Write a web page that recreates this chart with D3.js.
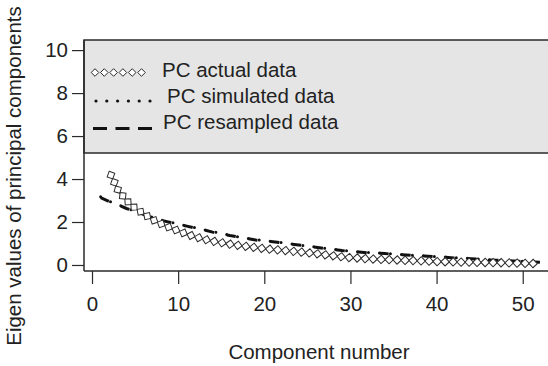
<!DOCTYPE html>
<html>
<head>
<meta charset="utf-8">
<script src="https://cdn.jsdelivr.net/npm/d3@7"></script>
<style>
  body { margin: 0; background: #fff; }
  svg { display: block; }
  text { font-family: "Liberation Sans", Arial, sans-serif; fill: #222; }
</style>
</head>
<body>
<div id="chart"></div>
<script>
// component numbers
var actualComp = d3.range(2, 53);
var resampComp = d3.range(1, 53);

// PC actual data (components 2..52)
var actualVals = [4.35, 3.5, 3.0, 2.65, 2.38, 2.12, 1.92, 1.74, 1.59, 1.43,
  1.31, 1.2, 1.11, 1.04, 0.97, 0.91, 0.86, 0.81, 0.76, 0.72,
  0.69, 0.65, 0.61, 0.57, 0.53, 0.48, 0.43, 0.38, 0.34, 0.32,
  0.29, 0.27, 0.25, 0.24, 0.22, 0.21, 0.19, 0.18, 0.16, 0.15,
  0.14, 0.135, 0.13, 0.12, 0.115, 0.11, 0.1, 0.09, 0.08, 0.07, 0.06];

// PC simulated data (components 1..52)
var simVals = [3.17, 2.97, 2.82, 2.65, 2.51, 2.36, 2.22, 2.1, 2.0, 1.91,
  1.82, 1.73, 1.64, 1.55, 1.47, 1.39, 1.31, 1.24, 1.18, 1.13,
  1.09, 1.04, 0.99, 0.94, 0.88, 0.83, 0.78, 0.73, 0.68, 0.64,
  0.61, 0.58, 0.56, 0.54, 0.51, 0.49, 0.46, 0.44, 0.42, 0.39,
  0.37, 0.34, 0.32, 0.3, 0.28, 0.25, 0.23, 0.21, 0.19, 0.17, 0.15, 0.14];

// PC resampled data (components 1..52)
var resampVals = [3.13, 2.95, 2.8, 2.63, 2.5, 2.35, 2.21, 2.08, 1.99, 1.9,
  1.81, 1.72, 1.63, 1.53, 1.45, 1.37, 1.3, 1.23, 1.16, 1.12,
  1.08, 1.03, 0.98, 0.93, 0.87, 0.82, 0.77, 0.72, 0.67, 0.63,
  0.6, 0.57, 0.55, 0.53, 0.5, 0.48, 0.45, 0.43, 0.41, 0.38,
  0.36, 0.33, 0.31, 0.29, 0.27, 0.24, 0.22, 0.2, 0.18, 0.16, 0.14, 0.13];

var xTicks = [0, 10, 20, 30, 40, 50];
var yTicks = [0, 2, 4, 6, 8, 10];
var legendLabels = ["PC actual data", "PC simulated data", "PC resampled data"];

var width = 548, height = 366;
var boxL = 84, boxR = 549, boxT = 40, boxB = 271;
var legendBottom = 153;
var ink = "#2a2a2a";
var fs = 20.5;

var svg = d3.select("#chart").append("svg")
  .attr("width", width)
  .attr("height", height);

var x = d3.scaleLinear().domain([-0.93, 53.05]).range([boxL, boxR]);
var y = d3.scaleLinear().domain([-0.28, 10.47]).range([boxB, boxT]);

svg.append("clipPath").attr("id", "clip")
  .append("rect")
  .attr("x", boxL).attr("y", boxT)
  .attr("width", boxR - boxL).attr("height", boxB - boxT);

var plot = svg.append("g").attr("clip-path", "url(#clip)");

var line = d3.line()
  .x(function (d) { return x(d[0]); })
  .y(function (d) { return y(d[1]); });

// simulated - dotted
plot.append("path")
  .datum(d3.zip(resampComp, simVals))
  .attr("d", line)
  .attr("fill", "none")
  .attr("stroke", "#111")
  .attr("stroke-width", 3)
  .attr("stroke-linecap", "round")
  .attr("stroke-dasharray", "0,11");

// resampled - dashed
plot.append("path")
  .datum(d3.zip(resampComp, resampVals))
  .attr("d", line)
  .attr("fill", "none")
  .attr("stroke", "#111")
  .attr("stroke-width", 3)
  .attr("stroke-dasharray", "9,13");

// actual - diamonds placed along the line
var actualPath = plot.append("path")
  .datum(d3.zip(actualComp, actualVals))
  .attr("d", line)
  .attr("fill", "none")
  .attr("stroke", "none");

var node = actualPath.node();
var total = node.getTotalLength();
var step = 8, r = 4.2;
var marks = [];
for (var s = step / 2; s <= total; s += step) {
  var p = node.getPointAtLength(s);
  var q = node.getPointAtLength(Math.min(total, s + 0.5));
  var p0 = node.getPointAtLength(Math.max(0, s - 0.5));
  var ang = Math.atan2(q.y - p0.y, q.x - p0.x) * 180 / Math.PI;
  marks.push({ x: p.x, y: p.y, a: ang });
}

plot.selectAll(".dia")
  .data(marks)
  .enter()
  .append("path")
  .attr("class", "dia")
  .attr("d", "M" + (-r) + ",0L0," + (-r) + "L" + r + ",0L0," + r + "Z")
  .attr("transform", function (d) {
    return "translate(" + d.x + "," + d.y + ") rotate(" + d.a + ")";
  })
  .attr("fill", "#fff")
  .attr("stroke", ink)
  .attr("stroke-width", 1);

// legend box
svg.append("rect")
  .attr("x", boxL).attr("y", boxT)
  .attr("width", boxR - boxL).attr("height", legendBottom - boxT)
  .attr("fill", "#e5e5e5")
  .attr("stroke", ink)
  .attr("stroke-width", 1.5);

var lg = svg.append("g");

// row 1: diamonds
lg.selectAll(".ldia")
  .data(d3.range(6))
  .enter()
  .append("path")
  .attr("class", "ldia")
  .attr("d", "M-3.8,0L0,-3.8L3.8,0L0,3.8Z")
  .attr("transform", function (d) { return "translate(" + (95 + d * 9.3) + ",72.5)"; })
  .attr("fill", "#fff")
  .attr("stroke", ink)
  .attr("stroke-width", 1);

// row 2: dots
lg.selectAll(".ldot")
  .data(d3.range(6))
  .enter()
  .append("circle")
  .attr("cx", function (d) { return 96 + d * 10.8; })
  .attr("cy", 101)
  .attr("r", 1.6)
  .attr("fill", "#111");

// row 3: dashes
lg.append("line")
  .attr("x1", 93).attr("x2", 152)
  .attr("y1", 128.5).attr("y2", 128.5)
  .attr("stroke", "#111")
  .attr("stroke-width", 3)
  .attr("stroke-dasharray", "14,8.5");

var legX = [162, 167, 163];
var legY = [76.7, 103, 129.3];
lg.selectAll(".ltxt")
  .data(legendLabels)
  .enter()
  .append("text")
  .attr("x", function (d, i) { return legX[i]; })
  .attr("y", function (d, i) { return legY[i]; })
  .attr("font-size", fs)
  .text(function (d) { return d; });

// axes lines of the box
svg.append("line")
  .attr("x1", boxL).attr("x2", boxL)
  .attr("y1", boxT).attr("y2", boxB)
  .attr("stroke", ink).attr("stroke-width", 1.5);
svg.append("line")
  .attr("x1", boxL).attr("x2", boxR)
  .attr("y1", boxB).attr("y2", boxB)
  .attr("stroke", ink).attr("stroke-width", 1.5);

var yAxis = svg.append("g")
  .attr("transform", "translate(" + boxL + ",0)")
  .call(d3.axisLeft(y).tickValues(yTicks).tickSize(12).tickPadding(4));
var xAxis = svg.append("g")
  .attr("transform", "translate(0," + boxB + ")")
  .call(d3.axisBottom(x).tickValues(xTicks).tickSize(13).tickPadding(12));

[yAxis, xAxis].forEach(function (a) {
  a.select(".domain").remove();
  a.selectAll(".tick line").attr("stroke", ink).attr("stroke-width", 1.2);
  a.selectAll(".tick text")
    .attr("font-size", fs)
    .attr("font-family", "Liberation Sans, Arial, sans-serif")
    .attr("fill", "#222");
});

svg.append("text")
  .attr("x", 319).attr("y", 359)
  .attr("text-anchor", "middle")
  .attr("font-size", fs)
  .text("Component number");

svg.append("text")
  .attr("transform", "translate(21,176) rotate(-90)")
  .attr("text-anchor", "middle")
  .attr("font-size", fs)
  .text("Eigen values of principal components");
</script>
</body>
</html>
